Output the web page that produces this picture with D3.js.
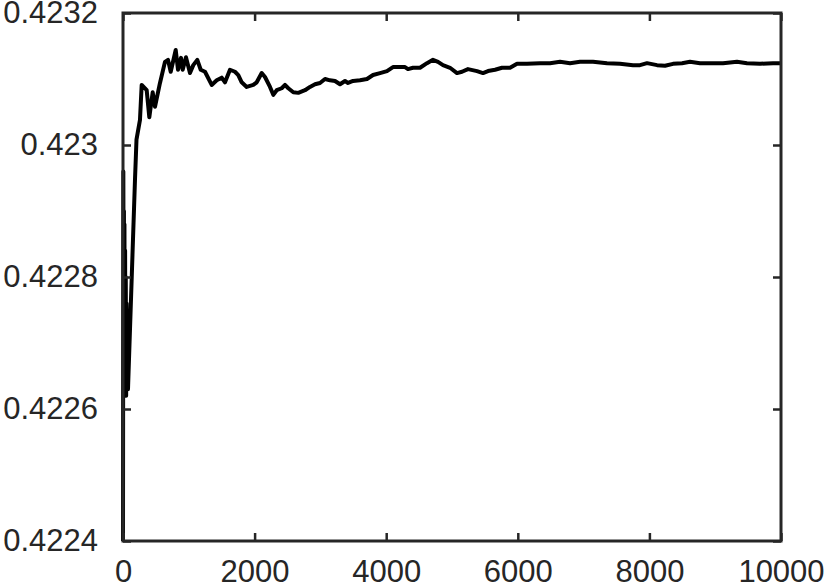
<!DOCTYPE html>
<html>
<head>
<meta charset="utf-8">
<script src="https://cdn.jsdelivr.net/npm/d3@7"></script>
<style>
  body { margin: 0; background: #fff; }
  svg { display: block; }
  .tick text { font-family: "Liberation Sans", Arial, sans-serif; font-size: 31px; fill: #262626; }
</style>
</head>
<body>
<svg id="chart"></svg>
<script>
// iteration count and running estimate
const iterations = [0, 5, 10, 14, 18, 22, 27, 32, 37, 42, 48, 55, 62, 70, 76, 106, 182, 205, 258, 284,
  360, 400, 451, 486, 562, 638, 684, 725, 801, 836, 881, 907, 957, 1018, 1068, 1129,
  1181, 1246, 1348, 1424, 1500, 1550, 1626, 1702, 1752, 1804, 1880, 1980, 2032, 2108,
  2158, 2234, 2284, 2336, 2412, 2462, 2512, 2588, 2664, 2766, 2842, 2918, 2994, 3070,
  3146, 3222, 3298, 3374, 3420, 3496, 3602, 3708, 3800, 3906, 4012, 4103, 4179, 4286,
  4331, 4407, 4514, 4620, 4711, 4787, 4863, 4970, 5076, 5152, 5243, 5380, 5471, 5547,
  5654, 5760, 5882, 5988, 6140, 6338, 6490, 6642, 6794, 6946, 7143, 7356, 7553, 7751,
  7857, 7964, 8116, 8237, 8359, 8496, 8617, 8769, 8921, 9119, 9331, 9483, 9681, 9878, 10000];

const estimates = [0.42240, 0.42296, 0.42270, 0.42290, 0.42264, 0.42288, 0.42266, 0.42284, 0.42263, 0.42280, 0.42262, 0.42276, 0.42263, 0.42270, 0.42263,
  0.42272, 0.422947, 0.423008, 0.423038, 0.423091,
  0.423083, 0.423042, 0.423080, 0.423058, 0.423094, 0.423126, 0.423129, 0.423111, 0.423144, 0.423114, 0.423132, 0.423114, 0.423133, 0.423109, 0.423121, 0.423129,
  0.423114, 0.423111, 0.423091, 0.423098, 0.423102, 0.423095, 0.423114, 0.423111, 0.423106, 0.423095, 0.423088, 0.423091, 0.423095, 0.423109,
  0.423103, 0.423088, 0.423076, 0.423083, 0.423086, 0.423091, 0.423086, 0.423080, 0.423079, 0.423083, 0.423088, 0.423092, 0.423094, 0.423100,
  0.423098, 0.423097, 0.423092, 0.423097, 0.423094, 0.423097, 0.423098, 0.423100, 0.423106, 0.423109, 0.423112, 0.423118, 0.423118, 0.423118,
  0.423115, 0.423117, 0.423117, 0.423124, 0.423129, 0.423126, 0.423121, 0.423117, 0.423109, 0.423111, 0.423115, 0.423112, 0.423109, 0.423112,
  0.423114, 0.423117, 0.423117, 0.423123, 0.423123, 0.423124, 0.423124, 0.423126, 0.423124, 0.423126, 0.423126, 0.423124, 0.423123, 0.423121,
  0.423121, 0.423124, 0.423121, 0.423120, 0.423123, 0.423124, 0.423126, 0.423124, 0.423124, 0.423124, 0.423126, 0.423124, 0.423123, 0.423124, 0.423124];

const xTicks = [0, 2000, 4000, 6000, 8000, 10000];
const yTicks = [0.4224, 0.4226, 0.4228, 0.423, 0.4232];

const data = iterations.map((d, i) => ({ x: d, y: estimates[i] }));

const margin = { top: 13, right: 49, bottom: 44, left: 123 },
      width = 830 - margin.left - margin.right,
      height = 585 - margin.top - margin.bottom;

const svg = d3.select("#chart")
    .attr("width", 830)
    .attr("height", 585);

const chart = svg.append("g")
    .attr("transform", `translate(${margin.left}, ${margin.top})`);

const xScale = d3.scaleLinear().domain([0, 10000]).range([0, width]);
const yScale = d3.scaleLinear().domain([0.4224, 0.4232]).range([height, 0]);

// data line
const line = d3.line()
    .x(d => xScale(d.x))
    .y(d => yScale(d.y));

chart.append("path")
    .datum(data)
    .attr("fill", "none")
    .attr("stroke", "#000")
    .attr("stroke-width", 4)
    .attr("stroke-linejoin", "round")
    .attr("d", line);

// axes, ticks pointing inward on all four sides
const axisColor = "#262626";

chart.append("g")
    .attr("transform", `translate(0, ${height})`)
    .call(d3.axisBottom(xScale).tickValues(xTicks).tickSize(-8).tickPadding(19)
        .tickFormat(d3.format("d")));

chart.append("g")
    .call(d3.axisTop(xScale).tickValues(xTicks).tickSize(-8).tickFormat(""));

chart.append("g")
    .call(d3.axisLeft(yScale).tickValues(yTicks).tickSize(-8).tickPadding(25)
        .tickFormat(d => String(+d.toFixed(4))));

chart.append("g")
    .attr("transform", `translate(${width}, 0)`)
    .call(d3.axisRight(yScale).tickValues(yTicks).tickSize(-8).tickFormat(""));

chart.selectAll(".domain").remove();
chart.selectAll(".tick line").attr("stroke", axisColor).attr("stroke-width", 2.5);

// frame
chart.append("rect")
    .attr("width", width)
    .attr("height", height)
    .attr("fill", "none")
    .attr("stroke", axisColor)
    .attr("stroke-width", 3);
</script>
</body>
</html>
